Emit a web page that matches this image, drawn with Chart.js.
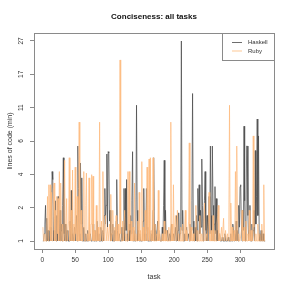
<!DOCTYPE html>
<html>
<head>
<meta charset="utf-8">
<script src="https://cdn.jsdelivr.net/npm/chart.js@4/dist/chart.umd.min.js"></script>
<style>
  html, body { margin: 0; padding: 0; background: #fff; }
</style>
</head>
<body>
<canvas id="chart" width="291" height="291"></canvas>
<script>
// lines of code (min) per task (tasks 1..338)
const haskell = [
  1, 1, 1.2, 1.5, 2.2, 1, 1.7, 1, 1.3, 1,
  1, 1.4, 1, 2.0, 4.0, 3.5, 1, 1.3, 1, 2.4,
  1, 1.8, 1, 2.6, 1.2, 1, 2.0, 1, 1.5, 1,
  2.2, 5.0, 1.2, 1, 1.5, 1, 1, 1.3, 1, 1,
  1, 1.6, 1, 2.9, 1, 1.2, 1, 1, 1.4, 1,
  1, 1.8, 1, 6.0, 3.0, 1.2, 1, 4.6, 1.5, 3.6,
  1, 1, 1.4, 1, 1, 1.2, 1, 1, 1.3, 1,
  1, 1, 1.2, 1, 1, 1, 1.5, 1, 1, 1.3,
  1, 1, 1.6, 1, 1.2, 1, 1, 1, 1.4, 1,
  1, 1.3, 1, 1.8, 3.0, 1.5, 2.2, 5.3, 1.4, 5.5,
  5.4, 1.6, 2.0, 1, 1.2, 1, 1.5, 1, 1, 1.3,
  1, 1.6, 3.5, 1.3, 1, 1, 1.2, 1, 1, 1,
  1.4, 1, 1.2, 3.0, 1, 3.0, 1.3, 3.5, 1, 1.2,
  1, 1.5, 1, 1.8, 1.2, 2.4, 5.5, 1, 1.3, 1,
  1, 1.6, 11, 2.0, 1, 1.3, 1, 1.2, 1, 1,
  1, 1, 1.6, 3.0, 1, 1.2, 1, 3.0, 1.4, 1,
  1, 1, 1.3, 1, 1, 1.2, 1, 2.0, 5.0, 1.5,
  1, 1.3, 1, 1, 1.6, 1, 1, 1.2, 1, 1,
  1, 1.4, 1, 2.2, 4.8, 1.2, 2.0, 1, 1, 1.3,
  1, 1, 1.2, 1, 1, 1.5, 1, 1, 1.2, 1,
  1, 1.4, 1, 1.8, 1, 1.3, 1.9, 1, 1.2, 1.5,
  27, 1.3, 2.0, 1, 1, 1.2, 1, 1, 1.4, 1,
  1, 1.2, 1, 1.5, 1, 1.3, 2.4, 13, 1.6, 1,
  1, 1.4, 1, 1.8, 1, 3.0, 1.6, 3.2, 1.2, 2.0,
  1.4, 4.9, 2.2, 1, 1.6, 2.4, 4.0, 1.3, 1, 1.8,
  1, 1.5, 2.6, 1.2, 6.0, 1.8, 1, 6.0, 2.2, 1,
  1.5, 3.1, 1.2, 2.5, 1, 1.3, 1, 1, 1.2, 1,
  1, 1, 1.1, 1, 1, 1, 1.2, 1, 1, 1,
  1, 1.1, 1, 1, 1, 1.2, 1, 1, 1.5, 1.3,
  1, 1.2, 1, 1.6, 1, 1.3, 1, 2.2, 1.4, 3.1,
  3.2, 1.5, 1, 2.0, 1.3, 8.1, 2.4, 1, 1.6, 6.0,
  6.0, 1.8, 1, 1.3, 2.2, 1, 1, 1.5, 1, 1.3,
  2.0, 1, 5.6, 1.5, 2.6, 9.0, 1.8, 7.0, 1.2, 1,
  1, 1.3, 1, 1, 1.2, 1, 1, 1
]
const ruby = [
  1.4, 1, 1, 1.2, 1, 1, 1.5, 2.6, 1, 3.2,
  1.3, 3.2, 1, 2.8, 1, 1.4, 3.0, 3.3, 1, 2.0,
  1, 2.6, 1.2, 2.5, 1, 4.0, 1, 3.3, 1.3, 1,
  1.5, 1, 2.2, 4.8, 1, 1.3, 2.5, 1, 1, 1.6,
  5.0, 1, 1.4, 2.0, 1, 4.1, 1, 1.5, 1, 4.3,
  1.2, 1, 2.6, 1, 1, 8.6, 1, 1.3, 2.0, 1,
  1, 1.4, 4.0, 1, 1, 2.2, 3.9, 1, 1.2, 1,
  3.6, 1, 1, 1.5, 3.8, 1, 3.7, 1, 1.3, 1,
  1, 2.2, 1, 1, 1.4, 1, 8.6, 1, 1, 1.6,
  1, 4.0, 1.2, 1, 1, 1.8, 1, 1, 1.4, 1,
  1, 1.5, 1, 2.7, 1, 1.2, 2.0, 1, 1, 1.4,
  1, 1.8, 1, 1, 1.5, 1, 1, 20.8, 1.2, 1,
  1, 1.6, 1, 1, 2.0, 1, 1.2, 1, 1, 4.0,
  1, 4.0, 1.3, 1, 1.6, 1, 1, 1.4, 1, 3.3,
  1, 1.2, 1, 1, 1.6, 1, 2.8, 1, 1.3, 1,
  4.7, 1, 1.4, 1, 1, 2.0, 1, 1.5, 4.3, 1,
  1.2, 4.9, 1, 5.0, 1, 1.3, 1, 5.0, 1, 1,
  1.5, 1, 1, 1.2, 1, 2.9, 1, 1.3, 1, 1,
  1, 1.2, 1, 1, 1.6, 1, 1, 1.3, 1, 1,
  1, 1.4, 1, 1, 8.6, 1, 1.5, 1, 3.2, 1,
  1, 1.8, 1, 1, 2.0, 1, 1.2, 1, 1, 1.4,
  1, 1, 1.5, 1, 1, 1, 2.0, 1, 1.3, 1,
  1, 1.6, 6.3, 1, 1, 1.4, 1, 1, 1.2, 1,
  1, 1.4, 2.2, 1, 1, 1.3, 1, 1, 1.8, 1,
  1, 1.2, 1, 1, 1.5, 2.3, 1, 1, 1.2, 1,
  1, 1.6, 2.8, 1, 1, 1.3, 1, 1, 1.8, 1,
  1, 1.3, 1, 1, 1.5, 1.8, 2.2, 1, 1.2, 1,
  1, 1.4, 1, 1, 1.7, 1, 1, 1.3, 1, 1,
  1.2, 1, 1.5, 11, 1, 2.3, 1, 1.4, 1, 1,
  1.3, 1, 4.0, 1, 6.0, 1.5, 1, 1.2, 1, 1,
  1, 1.3, 2.0, 1, 1, 1.4, 1, 1, 1.6, 1,
  1, 1.2, 1, 2.0, 1, 1, 1.3, 1, 1, 7.0,
  1.4, 1, 1, 1.2, 1, 1, 1.5, 1, 1, 1.2,
  1, 1, 1.5, 1, 1, 3.2, 1, 1
]
const xTicks = [0, 50, 100, 150, 200, 250, 300]
const yTickLabels = ["1", "2", "4", "6", "11", "17", "27"]

const HASKELL_COLOR = "rgba(72, 72, 72, 0.8)"
const RUBY_COLOR = "rgba(253, 186, 124, 0.8)"
const BOX_COLOR = "#8a8a8a"
const TEXT_COLOR = "#333"

Chart.defaults.font.family = "'Liberation Sans', Arial, sans-serif"
Chart.defaults.color = TEXT_COLOR

// y is plotted as log(v + 1), tick labels are evenly spaced on that scale
const tr = v => Math.log(v + 1)
const yLo = tr(1), yHi = tr(27)
const yPad = (yHi - yLo) * 0.04
const n = haskell.length
const xPad = (n - 1) * 0.04

const toPoints = arr => arr.map((v, i) => ({ x: i + 1, y: tr(v) }))

// R-style frame, title and legend
const frame = {
  id: "frame",
  afterDraw(chart) {
    const { ctx, chartArea: a } = chart
    ctx.save()
    ctx.strokeStyle = BOX_COLOR
    ctx.lineWidth = 1
    ctx.strokeRect(a.left + 0.5, a.top + 0.5, a.right - a.left, a.bottom - a.top)

    ctx.fillStyle = "#111"
    ctx.font = "bold 8px 'Liberation Sans', Arial, sans-serif"
    ctx.textAlign = "center"
    ctx.textBaseline = "middle"
    ctx.fillText("Conciseness: all tasks", (a.left + a.right) / 2, 17)

    // legend box in top-right corner
    const w = 52, h = 27
    const lx = a.right - w, ly = a.top
    ctx.fillStyle = "#fff"
    ctx.fillRect(lx + 0.5, ly + 0.5, w, h)
    ctx.strokeStyle = BOX_COLOR
    ctx.strokeRect(lx + 0.5, ly + 0.5, w, h)
    ctx.font = "6px 'Liberation Sans', Arial, sans-serif"
    ctx.textAlign = "left"
    chart.data.datasets.forEach((ds, i) => {
      const yy = ly + 9.5 + i * 8.5
      ctx.strokeStyle = ds.borderColor
      ctx.lineWidth = 1
      ctx.beginPath()
      ctx.moveTo(lx + 10, yy)
      ctx.lineTo(lx + 20, yy)
      ctx.stroke()
      ctx.fillStyle = TEXT_COLOR
      ctx.fillText(ds.label, lx + 26, yy)
    })
    ctx.restore()
  }
}

new Chart(document.getElementById("chart"), {
  type: "line",
  data: {
    datasets: [
      { label: "Haskell", data: toPoints(haskell), borderColor: HASKELL_COLOR, borderWidth: 0.9, order: 2 },
      { label: "Ruby", data: toPoints(ruby), borderColor: RUBY_COLOR, borderWidth: 0.9, order: 1 }
    ]
  },
  options: {
    responsive: false,
    animation: false,
    layout: { padding: { top: 33, right: 17, left: 0, bottom: 0 } },
    elements: {
      point: { radius: 0 },
      line: { tension: 0 }
    },
    plugins: {
      legend: { display: false },
      tooltip: { enabled: false },
      title: { display: false }
    },
    scales: {
      x: {
        type: "linear",
        min: 1 - xPad,
        max: n + xPad,
        afterBuildTicks: s => { s.ticks = xTicks.map(v => ({ value: v })) },
        afterFit: s => { s.height = 42 },
        grid: { drawOnChartArea: false, tickLength: 4, color: BOX_COLOR },
        border: { color: BOX_COLOR },
        ticks: { font: { size: 6.5 }, padding: 3, maxRotation: 0, autoSkip: false },
        title: { display: true, text: "task", font: { size: 7 }, padding: { top: 0, bottom: 10 } }
      },
      y: {
        type: "linear",
        min: yLo - yPad,
        max: yHi + yPad,
        afterBuildTicks: s => {
          s.ticks = yTickLabels.map((_, i) => ({ value: yLo + i * (yHi - yLo) / 6 }))
        },
        afterFit: s => { s.width = 34 },
        grid: { drawOnChartArea: false, tickLength: 4, color: BOX_COLOR },
        border: { color: BOX_COLOR },
        ticks: {
          font: { size: 6.5 },
          padding: 5,
          minRotation: 90,
          maxRotation: 90,
          crossAlign: "center",
          autoSkip: false,
          callback: (v, i) => yTickLabels[i]
        },
        title: { display: true, text: "lines of code (min)", font: { size: 7 }, padding: { top: 6, bottom: 0 } }
      }
    }
  },
  plugins: [frame]
})
</script>
</body>
</html>
